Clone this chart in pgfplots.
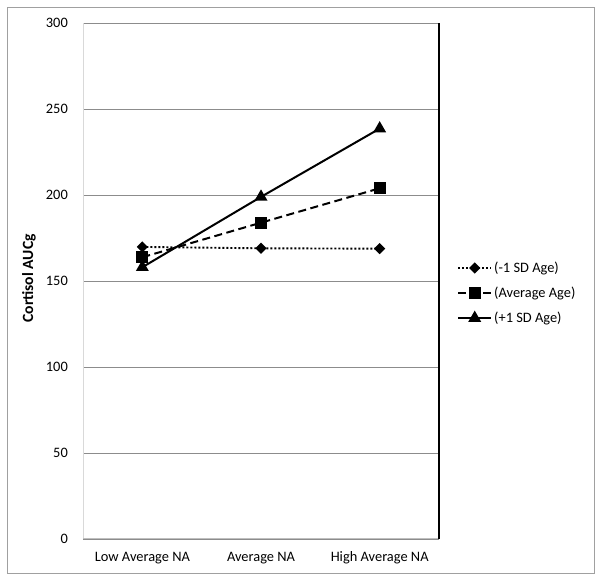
\documentclass[border=0pt]{standalone}
\usepackage{fontspec}
\setmainfont{Carlito}
\usepackage{pgfplots}
\pgfplotsset{compat=1.18}
\definecolor{gridgray}{HTML}{8C8C8C}
\definecolor{leftgray}{HTML}{D9D9D9}
\definecolor{botgray}{HTML}{BFBFBF}
\definecolor{framegray}{HTML}{A0A0A0}
\begin{document}
\begin{tikzpicture}[x=1bp,y=1bp]
\useasboundingbox (0,0) rectangle (602,583);
\draw[color=framegray, line width=1bp] (7.5,9) rectangle (594,575);
\begin{axis}[
  at={(83bp,44bp)}, anchor=south west,
  width=356bp, height=516bp, scale only axis,
  xmin=0, xmax=3, ymin=0, ymax=300,
  xtick={0.5,1.5,2.5},
  xticklabels={Low Average NA, Average NA, High Average NA},
  ytick={0,50,...,300},
  ymajorgrids, grid style={color=gridgray, line width=0.9bp},
  axis line style={draw=none},
  tick style={draw=none},
  ticklabel style={font=\fontsize{14.4bp}{17bp}\selectfont},
  /pgf/number format/assume math mode=true,
  yticklabel style={anchor=east, inner sep=0pt, xshift=-15bp},
  xticklabel style={anchor=base, inner sep=0pt, yshift=-23bp},
  ylabel={Cortisol AUCg},
  ylabel style={font=\fontsize{15.6bp}{18bp}\selectfont\bfseries, at={(axis description cs:-0.152,0.505)}, anchor=center},
  legend style={at={(axis description cs:1.0506,0.541)}, anchor=north west, draw=none, fill=none, inner sep=0pt, row sep=9bp,
    font=\fontsize{14.4bp}{17bp}\selectfont, nodes={inner sep=2bp}},
  legend cell align=left,
  legend image code/.code={\draw[#1, mark repeat=2, mark phase=2] plot coordinates {(0bp,0bp) (16.5bp,0bp) (33bp,0bp)};},
  clip=false,
]
\draw[leftgray, line width=1bp] (rel axis cs:0,0) -- (rel axis cs:0,1);
\draw[botgray, line width=1bp] (rel axis cs:0,0) -- (rel axis cs:1,0);
\draw[black, line width=1.3bp] (rel axis cs:1,0) -- (rel axis cs:1,1);
\addplot[black, line width=1.9bp, dash pattern=on 2bp off 2bp, mark=square*, mark size=3bp, mark options={solid, rotate=45}]
  coordinates {(0.5,169.8) (1.5,169.0) (2.5,168.8)};
\addlegendentry{(-1 SD Age)}
\addplot[black, line width=2bp, dash pattern=on 8bp off 4.5bp, mark=square*, mark size=5bp, mark options={solid}]
  coordinates {(0.5,163.8) (1.5,183.9) (2.5,203.9)};
\addlegendentry{(Average Age)}
\addplot[black, line width=2bp, mark=triangle*, mark size=5.5bp, mark options={solid}]
  coordinates {(0.5,158.0) (1.5,198.9) (2.5,238.6)};
\addlegendentry{(+1 SD Age)}
\end{axis}
\end{tikzpicture}
\end{document}
